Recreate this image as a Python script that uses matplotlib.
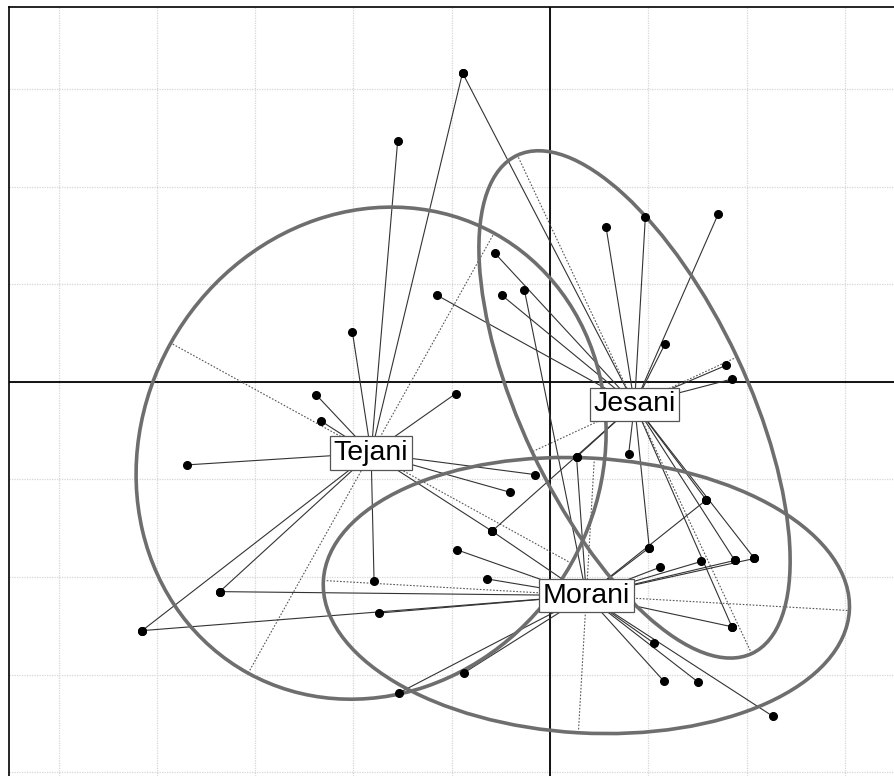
import numpy as np
import matplotlib
matplotlib.use('Agg')
import matplotlib.pyplot as plt
from matplotlib.patches import Ellipse

# group names and centres (star centres / ellipse centres)
groups = ['Tejani', 'Jesani', 'Morani']
center_x = [-1.82, 0.86, 0.37]
center_y = [-0.73, -0.23, -2.19]

# ellipse half axes and angle (degrees)
ell_a = [2.58, 2.82, 2.68]
ell_b = [2.33, 1.15, 1.41]
ell_angle = [61.0, 115.0, -3.3]

# points linked to each centre
tejani_x = [-1.55, -0.89, -2.01, -2.38, -2.33, -0.96, -3.69, -3.36, -4.15, -1.79, -0.15, -0.41, -0.59]
tejani_y = [2.47, 3.17, 0.51, -0.13, -0.40, -0.12, -0.85, -2.15, -2.55, -2.04, -0.95, -1.13, -1.53]

jesani_x = [-0.89, 0.57, 0.97, 1.71, -0.56, -0.49, -1.15, 1.17, 1.79, 1.85, 0.80, 0.27, -0.59,
            1.01, 1.59, 1.85, 1.88, 2.08]
jesani_y = [3.17, 1.59, 1.69, 1.72, 1.32, 0.89, 0.89, 0.39, 0.17, 0.03, -0.74, -0.77, -1.53,
            -1.70, -1.21, -2.51, -1.83, -1.81]

morani_x = [-3.36, -4.15, -1.74, -0.95, -0.64, -1.54, -0.87, -0.59, -0.26, 0.27, 1.59, 1.01,
            1.12, 1.54, 1.88, 2.08, 1.85, 1.06, 1.16, 1.51, 2.27]
morani_y = [-2.15, -2.55, -2.37, -1.72, -2.02, -3.19, -2.98, -1.53, 0.94, -0.77, -1.21, -1.70,
            -1.90, -1.84, -1.83, -1.81, -2.51, -2.68, -3.07, -3.08, -3.43]

pts_x = [tejani_x, jesani_x, morani_x]
pts_y = [tejani_y, jesani_y, morani_y]

grid_x = [-5, -4, -3, -2, -1, 0, 1, 2, 3]
grid_y = [-4, -3, -2, -1, 0, 1, 2, 3]

fig = plt.figure(figsize=(8.95, 7.76), dpi=100)
ax = fig.add_axes([9 / 895, 0, 886 / 895, 769 / 776])
ax.set_xlim(-5.504, 3.510)
ax.set_ylim(-4.041, 3.846)

for g in grid_x:
    ax.axvline(g, color='#d6d6d6', lw=0.9, ls=(0, (1, 1)), zorder=0)
for g in grid_y:
    ax.axhline(g, color='#d6d6d6', lw=0.9, ls=(0, (1, 1)), zorder=0)
ax.axvline(0, color='black', lw=1.3, zorder=1)
ax.axhline(0, color='black', lw=1.3, zorder=1)

for i, name in enumerate(groups):
    cx, cy = center_x[i], center_y[i]
    # star
    for px, py in zip(pts_x[i], pts_y[i]):
        ax.plot([cx, px], [cy, py], color='#333333', lw=0.8, zorder=2)
    # ellipse
    ax.add_patch(Ellipse((cx, cy), 2 * ell_a[i], 2 * ell_b[i], angle=ell_angle[i],
                         fill=False, ec='#6e6e6e', lw=2.6, zorder=3))
    # ellipse axes
    t = np.deg2rad(ell_angle[i])
    for r, ang in [(ell_a[i], t), (ell_b[i], t + np.pi / 2)]:
        dx, dy = r * np.cos(ang), r * np.sin(ang)
        ax.plot([cx - dx, cx + dx], [cy - dy, cy + dy], color='#555555', lw=0.8,
                ls=(0, (1.5, 1.5)), zorder=2)

for i in range(len(groups)):
    ax.plot(pts_x[i], pts_y[i], 'o', color='black', ms=5.5, zorder=4, ls='none')

for i, name in enumerate(groups):
    ax.text(center_x[i], center_y[i], name, ha='center', va='center', fontsize=20.5,
            family='Liberation Sans', zorder=5,
            bbox=dict(boxstyle='square,pad=0.13', fc='white', ec='#555555', lw=0.9))

ax.set_xticks([])
ax.set_yticks([])
ax.spines['right'].set_visible(False)
ax.spines['bottom'].set_visible(False)
for s in ['top', 'left']:
    ax.spines[s].set_linewidth(1.2)

fig.savefig('out.png', dpi=100)
